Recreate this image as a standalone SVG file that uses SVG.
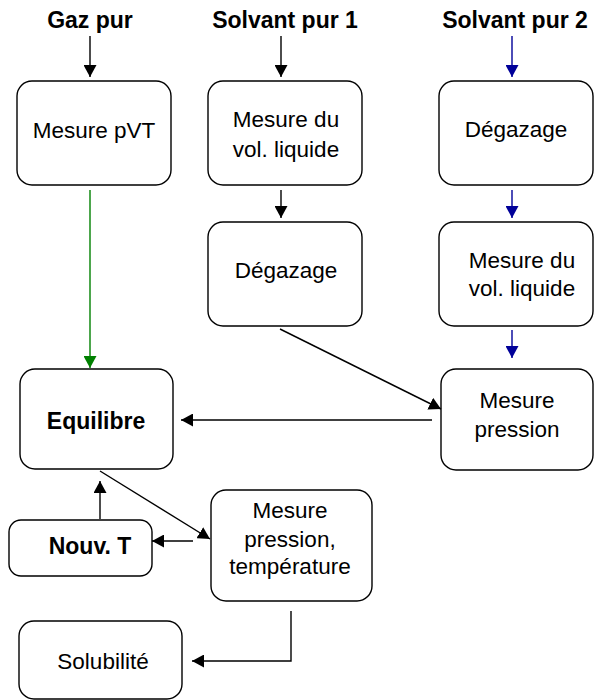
<svg xmlns="http://www.w3.org/2000/svg" width="594" height="700" viewBox="0 0 594 700">
<style>
  .box { fill: #ffffff; stroke: #000000; stroke-width: 1.4; }
  .t { font-family: "Liberation Sans", Arial, sans-serif; font-size: 22.5px; fill: #000000; text-anchor: middle; }
  .b { font-family: "Liberation Sans", Arial, sans-serif; font-size: 23px; font-weight: bold; fill: #000000; text-anchor: middle; }
  .k { fill: none; stroke: #000000; stroke-width: 1.4; marker-end: url(#ak); }
  .g { fill: none; stroke: #008000; stroke-width: 1.4; marker-end: url(#ag); }
  .u { fill: none; stroke: #000099; stroke-width: 1.4; marker-end: url(#au); }
</style>
<defs>
  <marker id="ak" markerUnits="userSpaceOnUse" markerWidth="13" markerHeight="13" refX="12" refY="6.5" orient="auto" viewBox="0 0 13 13">
    <path d="M0,0 L12,6.5 L0,13 z" fill="#000000"/>
  </marker>
  <marker id="ag" markerUnits="userSpaceOnUse" markerWidth="13" markerHeight="13" refX="12" refY="6.5" orient="auto" viewBox="0 0 13 13">
    <path d="M0,0 L12,6.5 L0,13 z" fill="#008000"/>
  </marker>
  <marker id="au" markerUnits="userSpaceOnUse" markerWidth="13" markerHeight="13" refX="12" refY="6.5" orient="auto" viewBox="0 0 13 13">
    <path d="M0,0 L12,6.5 L0,13 z" fill="#000099"/>
  </marker>
</defs>
<rect width="594" height="700" fill="#ffffff"/>

<g id="title-gaz"><text class="b" x="90" y="28">Gaz pur</text></g>
<g id="title-solvant1"><text class="b" x="285" y="28">Solvant pur 1</text></g>
<g id="title-solvant2"><text class="b" x="515" y="28">Solvant pur 2</text></g>

<g id="n-pvt">
  <rect class="box" x="17" y="81" width="154" height="104" rx="15"/>
  <text class="t" x="94" y="138">Mesure pVT</text>
</g>
<g id="n-vol1">
  <rect class="box" x="208" y="81" width="154" height="104" rx="15"/>
  <text class="t" x="286" y="127">Mesure du</text>
  <text class="t" x="286" y="157">vol. liquide</text>
</g>
<g id="n-deg1">
  <rect class="box" x="208" y="222" width="154" height="104" rx="15"/>
  <text class="t" x="286" y="278">Dégazage</text>
</g>
<g id="n-deg2">
  <rect class="box" x="439" y="81" width="154" height="104" rx="15"/>
  <text class="t" x="516" y="137">Dégazage</text>
</g>
<g id="n-vol2">
  <rect class="box" x="439" y="222" width="154" height="104" rx="15"/>
  <text class="t" x="522" y="268">Mesure du</text>
  <text class="t" x="522" y="296">vol. liquide</text>
</g>
<g id="n-pression">
  <rect class="box" x="441" y="369" width="152" height="101" rx="15"/>
  <text class="t" x="517" y="408">Mesure</text>
  <text class="t" x="517" y="437">pression</text>
</g>
<g id="n-equilibre">
  <rect class="box" x="20" y="369" width="153" height="100" rx="15"/>
  <text class="b" x="96" y="429">Equilibre</text>
</g>
<g id="n-nouvt">
  <rect class="box" x="9" y="520" width="143" height="56" rx="12"/>
  <text class="b" x="90" y="554">Nouv. T</text>
</g>
<g id="n-mpt">
  <rect class="box" x="211" y="490" width="161" height="111" rx="15"/>
  <text class="t" x="290" y="518">Mesure</text>
  <text class="t" x="290" y="547">pression,</text>
  <text class="t" x="290" y="574">température</text>
</g>
<g id="n-solubilite">
  <rect class="box" x="19" y="621" width="163" height="78" rx="15"/>
  <text class="t" x="103" y="669">Solubilité</text>
</g>

<g id="connectors">
  <line class="k" x1="90" y1="36" x2="90" y2="77"/>
  <line class="k" x1="281" y1="36" x2="281" y2="77"/>
  <line class="u" x1="512" y1="36" x2="512" y2="77"/>
  <line class="k" x1="281" y1="190" x2="281" y2="218"/>
  <line class="u" x1="512" y1="190" x2="512" y2="218"/>
  <line class="u" x1="512" y1="330" x2="512" y2="358"/>
  <line class="g" x1="90" y1="190" x2="90" y2="368"/>
  <line class="k" x1="280" y1="329" x2="441" y2="409"/>
  <line class="k" x1="432" y1="420" x2="181" y2="420"/>
  <line class="k" x1="100" y1="471" x2="210" y2="539"/>
  <line class="k" x1="100" y1="519" x2="100" y2="481"/>
  <line class="k" x1="193" y1="541" x2="152" y2="541"/>
  <polyline class="k" points="291,611 291,661 192,661"/>
</g>
</svg>
